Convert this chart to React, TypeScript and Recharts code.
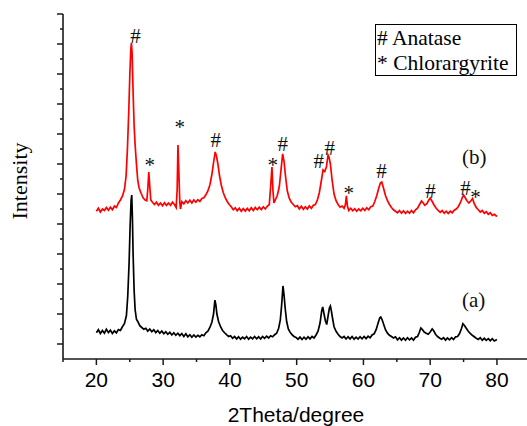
import React from "react"
import { ComposedChart, Line, Scatter, XAxis, YAxis } from "recharts"

// XRD pattern, 2theta (degree) vs intensity (a.u.)
const traceA: [number, number][] = [
  [20, 175], [20.3, 195], [20.6, 170], [20.9, 190], [21.2, 172], [21.5, 198], [21.8, 176], [22.1, 192], [22.4, 170], [22.7, 188],
  [23.0, 174], [23.3, 196], [23.6, 190], [23.9, 215], [24.2, 235], [24.5, 290], [24.7, 420], [24.9, 640], [25.05, 880], [25.2, 1060],
  [25.3, 1093], [25.4, 940], [25.5, 700], [25.65, 460], [25.8, 330], [26.0, 265], [26.2, 250], [26.5, 222], [26.8, 210], [27.1, 198],
  [27.4, 205], [27.7, 186], [28.0, 200], [28.3, 182], [28.6, 195], [28.9, 176], [29.2, 190], [29.5, 172], [29.8, 186], [30.1, 168],
  [30.4, 182], [30.7, 165], [31.0, 178], [31.3, 160], [31.6, 175], [31.9, 158], [32.2, 172], [32.5, 156], [32.8, 170], [33.1, 150],
  [33.4, 168], [33.7, 148], [34.0, 162], [34.3, 145], [34.6, 160], [34.9, 146], [35.2, 158], [35.5, 148], [35.8, 162], [36.1, 155],
  [36.4, 175], [36.7, 185], [37.0, 210], [37.3, 245], [37.55, 300], [37.75, 393], [37.9, 360], [38.05, 300], [38.3, 250], [38.6, 215],
  [38.9, 190], [39.2, 175], [39.5, 162], [39.8, 150], [40.1, 155], [40.4, 138], [40.7, 150], [41.0, 134], [41.3, 148], [41.6, 132],
  [41.9, 146], [42.2, 135], [42.5, 150], [42.8, 132], [43.1, 146], [43.4, 134], [43.7, 150], [44.0, 135], [44.3, 148], [44.6, 133],
  [44.9, 150], [45.2, 138], [45.5, 152], [45.8, 140], [46.1, 155], [46.4, 148], [46.7, 162], [47.0, 172], [47.3, 205], [47.55, 260],
  [47.75, 360], [47.95, 487], [48.1, 430], [48.3, 330], [48.5, 250], [48.75, 200], [49.0, 180], [49.3, 162], [49.6, 150], [49.9, 144],
  [50.2, 132], [50.5, 146], [50.8, 130], [51.1, 145], [51.4, 132], [51.7, 148], [52.0, 134], [52.3, 150], [52.6, 140], [52.9, 160],
  [53.2, 185], [53.5, 240], [53.75, 320], [53.9, 347], [54.1, 300], [54.3, 255], [54.5, 230], [54.7, 285], [54.9, 340], [55.05, 353],
  [55.2, 320], [55.4, 265], [55.6, 215], [55.9, 185], [56.2, 165], [56.5, 150], [56.8, 140], [57.1, 150], [57.4, 133], [57.7, 148],
  [58.0, 134], [58.3, 150], [58.6, 132], [58.9, 146], [59.2, 133], [59.5, 148], [59.8, 135], [60.1, 150], [60.4, 136], [60.7, 152],
  [61.0, 142], [61.3, 160], [61.6, 168], [61.9, 195], [62.2, 240], [62.45, 275], [62.6, 280], [62.8, 262], [63.0, 235], [63.3, 195],
  [63.6, 172], [63.9, 158], [64.2, 150], [64.5, 140], [64.8, 148], [65.1, 128], [65.4, 142], [65.7, 126], [66.0, 140], [66.3, 125],
  [66.6, 142], [66.9, 128], [67.2, 140], [67.5, 126], [67.8, 145], [68.1, 150], [68.35, 175], [68.6, 207], [68.8, 198], [69.1, 180],
  [69.4, 172], [69.7, 165], [70.0, 180], [70.3, 200], [70.5, 190], [70.8, 165], [71.1, 150], [71.4, 140], [71.7, 132], [72.0, 142],
  [72.3, 126], [72.6, 140], [72.9, 128], [73.2, 142], [73.5, 130], [73.8, 148], [74.1, 150], [74.4, 170], [74.7, 205], [74.9, 235],
  [75.1, 225], [75.4, 205], [75.7, 185], [76.0, 170], [76.3, 158], [76.6, 148], [76.9, 138], [77.2, 130], [77.5, 142], [77.8, 125],
  [78.1, 138], [78.4, 124], [78.7, 136], [79.0, 122], [79.3, 135], [79.6, 120], [80.0, 130],
]

const traceB: [number, number][] = [
  [20, 985], [20.3, 1005], [20.6, 980], [20.9, 1000], [21.2, 990], [21.5, 1010], [21.8, 992], [22.1, 1012], [22.4, 995], [22.7, 1020],
  [23.0, 1010], [23.3, 1040], [23.6, 1060], [23.9, 1085], [24.2, 1130], [24.45, 1220], [24.65, 1400], [24.85, 1650], [25.0, 1880], [25.15, 2060],
  [25.25, 2107], [25.35, 2040], [25.5, 1780], [25.65, 1560], [25.8, 1430], [26.0, 1300], [26.2, 1190], [26.4, 1140], [26.7, 1105], [27.0, 1075],
  [27.3, 1060], [27.55, 1055], [27.7, 1130], [27.85, 1247], [28.0, 1150], [28.15, 1060], [28.4, 1045], [28.7, 1030], [29.0, 1045], [29.3, 1025],
  [29.6, 1040], [29.9, 1022], [30.2, 1042], [30.5, 1024], [30.8, 1040], [31.1, 1025], [31.4, 1045], [31.7, 1030], [31.95, 1010], [32.1, 1130],
  [32.22, 1427], [32.35, 1250], [32.5, 1040], [32.6, 1000], [32.8, 1050], [33.1, 1035], [33.4, 1055], [33.7, 1040], [34.0, 1058], [34.3, 1040],
  [34.6, 1060], [34.9, 1045], [35.2, 1062], [35.5, 1050], [35.8, 1070], [36.1, 1075], [36.4, 1095], [36.7, 1120], [37.0, 1160], [37.3, 1230],
  [37.55, 1310], [37.8, 1380], [38.0, 1350], [38.2, 1300], [38.45, 1220], [38.7, 1160], [39.0, 1110], [39.3, 1075], [39.6, 1050], [39.9, 1030],
  [40.2, 1015], [40.5, 995], [40.8, 1008], [41.1, 988], [41.4, 1005], [41.7, 985], [42.0, 1002], [42.3, 986], [42.6, 1004], [42.9, 988],
  [43.2, 1008], [43.5, 990], [43.8, 1010], [44.1, 995], [44.4, 1012], [44.7, 996], [45.0, 1015], [45.3, 1000], [45.6, 1018], [45.9, 1030],
  [46.1, 1150], [46.3, 1280], [46.45, 1120], [46.6, 1040], [46.8, 1060], [47.1, 1090], [47.4, 1150], [47.65, 1260], [47.9, 1367], [48.1, 1320],
  [48.35, 1210], [48.6, 1120], [48.9, 1070], [49.2, 1045], [49.5, 1030], [49.8, 1015], [50.1, 1022], [50.4, 1000], [50.7, 1018], [51.0, 998],
  [51.3, 1015], [51.6, 1000], [51.9, 1020], [52.2, 1005], [52.5, 1025], [52.8, 1030], [53.1, 1060], [53.4, 1110], [53.7, 1190], [53.95, 1260],
  [54.2, 1250], [54.45, 1280], [54.7, 1360], [54.85, 1345], [55.05, 1300], [55.3, 1195], [55.6, 1100], [55.9, 1055], [56.2, 1030], [56.5, 1012],
  [56.8, 1020], [57.1, 1005], [57.3, 1030], [57.45, 1087], [57.6, 1020], [57.8, 990], [58.1, 1005], [58.4, 988], [58.7, 1002], [59.0, 985],
  [59.3, 1000], [59.6, 988], [59.9, 1005], [60.2, 990], [60.5, 1008], [60.8, 995], [61.1, 1015], [61.4, 1020], [61.7, 1050], [62.0, 1090],
  [62.3, 1140], [62.55, 1175], [62.75, 1180], [63.0, 1140], [63.3, 1090], [63.6, 1055], [63.9, 1030], [64.2, 1010], [64.5, 995], [64.8, 985],
  [65.1, 975], [65.4, 990], [65.7, 972], [66.0, 988], [66.3, 970], [66.6, 985], [66.9, 972], [67.2, 990], [67.5, 975], [67.8, 995],
  [68.1, 1005], [68.4, 1030], [68.7, 1053], [68.95, 1040], [69.2, 1025], [69.5, 1035], [69.8, 1060], [70.0, 1073], [70.3, 1050], [70.6, 1025],
  [70.9, 1005], [71.2, 990], [71.5, 978], [71.8, 990], [72.1, 972], [72.4, 985], [72.7, 970], [73.0, 985], [73.3, 975], [73.6, 992],
  [73.9, 1000], [74.2, 1015], [74.5, 1040], [74.8, 1075], [75.0, 1093], [75.25, 1075], [75.5, 1055], [75.8, 1040], [76.1, 1055], [76.35, 1070],
  [76.6, 1035], [76.9, 1010], [77.2, 995], [77.5, 980], [77.8, 990], [78.1, 972], [78.4, 982], [78.7, 965], [79.0, 975], [79.3, 958],
  [79.6, 965], [80.0, 950],
]

// phase markers above the peaks of (b): position, label height, symbol
const markX = [25.85, 27.98, 32.48, 37.87, 46.41, 47.9, 53.3, 54.97, 57.8, 62.72, 70.06, 75.3, 76.8]
const markY = [2107, 1247, 1500, 1413, 1247, 1387, 1273, 1360, 1060, 1207, 1073, 1093, 1033]
const markSym = ["#", "*", "*", "#", "*", "#", "#", "#", "*", "#", "#", "#", "*"]

const xTicks = [15, 20, 25, 30, 35, 40, 45, 50, 55, 60, 65, 70, 75, 80]
const yTicks = [100, 200, 300, 400, 500, 600, 700, 800, 900, 1000, 1100, 1200, 1300, 1400, 1500, 1600, 1700, 1800, 1900, 2000, 2100, 2200, 2300]

const dataA = traceA.map(([x, y]) => ({ x, y }))
const dataB = traceB.map(([x, y]) => ({ x, y }))
const marks = markX.map((x, i) => ({ x, y: markY[i], s: markSym[i] }))

const serif = "'Liberation Serif', 'Times New Roman', serif"
const sans = "'Liberation Sans', Arial, sans-serif"
const axisColor = "#1a1a1a"

const XTick = (props: any) => {
  const { x, y, payload } = props
  const major = payload.value % 10 === 0
  return (
    <g>
      <line x1={x} x2={x} y1={y} y2={y + (major ? 6 : 3)} stroke={axisColor} strokeWidth={1.5} />
      {major && (
        <text x={x} y={y + 28} textAnchor="middle" fontFamily={sans} fontSize={21} fill="#000">
          {payload.value}
        </text>
      )}
    </g>
  )
}

const YTick = (props: any) => {
  const { x, y, payload } = props
  const major = (payload.value / 100) % 2 === 1
  return <line x1={x} x2={x - (major ? 6 : 3)} y1={y} y2={y} stroke={axisColor} strokeWidth={1.5} />
}

const MarkShape = (props: any) => {
  const { cx, cy, payload } = props
  return (
    <text x={cx} y={cy} textAnchor="middle" fontFamily={serif} fontSize={21} fill="#111">
      {payload.s}
    </text>
  )
}

export default function App() {
  return (
    <div style={{ position: "absolute", left: 0, top: 0, width: 527, height: 426, overflow: "hidden", background: "#fff" }}>
      <ComposedChart width={527} height={426} margin={{ top: 14, right: 0, bottom: 0, left: 0 }}>
        <XAxis
          type="number"
          dataKey="x"
          domain={[15, 84.5]}
          ticks={xTicks}
          interval={0}
          height={67}
          allowDataOverflow
          tickLine={false}
          tickSize={0}
          tickMargin={0}
          axisLine={{ stroke: axisColor, strokeWidth: 1.6 }}
          tick={<XTick />}
        />
        <YAxis
          type="number"
          domain={[0, 2300]}
          ticks={yTicks}
          interval={0}
          width={63}
          allowDataOverflow
          tickLine={false}
          tickSize={0}
          tickMargin={0}
          axisLine={{ stroke: axisColor, strokeWidth: 1.6 }}
          tick={<YTick />}
        />
        <Line data={dataA} dataKey="y" type="linear" stroke="#000" strokeWidth={1.7} dot={false} isAnimationActive={false} />
        <Line data={dataB} dataKey="y" type="linear" stroke="#ff0000" strokeWidth={1.7} dot={false} isAnimationActive={false} />
        <Scatter data={marks} dataKey="y" shape={<MarkShape />} isAnimationActive={false} />
        <text x={27} y={181} transform="rotate(-90, 27, 181)" textAnchor="middle" fontFamily={serif} fontSize={22} fill="#000">
          Intensity
        </text>
        <text x={296} y={422} textAnchor="middle" fontFamily={sans} fontSize={21} fill="#000">
          2Theta/degree
        </text>
        <text x={462} y={164} fontFamily={serif} fontSize={21} fill="#111">(b)</text>
        <text x={462} y={307} fontFamily={serif} fontSize={21} fill="#111">(a)</text>
        <rect x={375.5} y={24.5} width={141} height={51} fill="#fff" stroke="#000" strokeWidth={1} />
        <text x={377} y={45} fontFamily={serif} fontSize={21.5} fill="#000"># Anatase</text>
        <text x={377} y={70} fontFamily={serif} fontSize={21.5} fill="#000">* Chlorargyrite</text>
      </ComposedChart>
    </div>
  )
}
